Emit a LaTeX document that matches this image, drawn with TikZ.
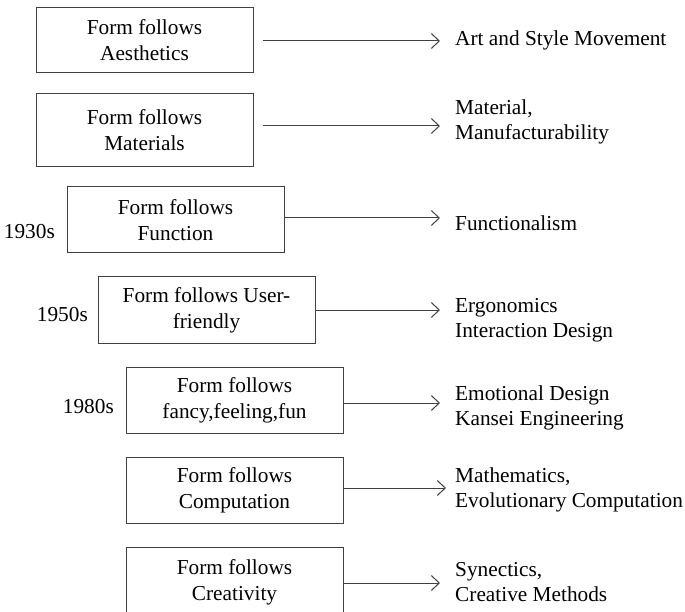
\documentclass[tikz,border=0pt]{standalone}
\usepackage{fontspec}
\setmainfont{Liberation Serif}
\usetikzlibrary{arrows.meta}
\begin{document}
\begin{tikzpicture}[x=1pt,y=-1pt,
  stage/.style={draw=black!75, line width=1pt, minimum width=217pt, inner sep=0pt,
    align=center, font=\fontsize{21.3}{26}\selectfont},
  outcome/.style={anchor=west, inner sep=0pt, align=left,
    font=\fontsize{21.3}{25.5}\selectfont},
  era/.style={anchor=east, inner sep=0pt, font=\fontsize{21.3}{25.5}\selectfont},
  link/.style={draw=black!75, line width=1pt,
    -{Straight Barb[length=8pt,width=15pt,line width=1pt]}}]
\useasboundingbox (0,0) rectangle (685,612);
\clip (0,0) rectangle (685,612);

% design paradigms
\node[stage, minimum height=65pt] (b1) at (144.5,40.5) {Form follows\\Aesthetics};
\node[stage, minimum height=73pt] (b2) at (144.5,130.5) {Form follows\\Materials};
\node[stage, minimum height=66pt] (b3) at (175.5,220) {Form follows\\Function};
\node[stage, minimum height=66pt] (b4) at (206.5,310) {Form follows User-\\friendly};
\node[stage, minimum height=66pt] (b5) at (234.5,400) {Form follows\\fancy,feeling,fun};
\node[stage, minimum height=66pt] (b6) at (234.5,490) {Form follows\\Computation};
\node[stage, minimum height=70pt] (b7) at (234.5,582) {Form follows\\Creativity};

% periods
\node[era] (y1) at (55,232) {1930s};
\node[era] (y2) at (88,315) {1950s};
\node[era] (y3) at (114,407) {1980s};

% related fields
\node[outcome] (t1) at (455,40) {Art and Style Movement};
\node[outcome] (t2) at (455,122) {Material,\\Manufacturability};
\node[outcome] (t3) at (455,223) {Functionalism};
\node[outcome] (t4) at (455,320) {Ergonomics\\Interaction Design};
\node[outcome] (t5) at (455,408) {Emotional Design\\Kansei Engineering};
\node[outcome] (t6) at (455,490) {Mathematics,\\Evolutionary Computation};
\node[outcome] (t7) at (455,582) {Synectics,\\Creative Methods};

% arrow tips
\coordinate (e1) at (440,41);
\coordinate (e2) at (440,126);
\coordinate (e3) at (440,218);
\coordinate (e4) at (440,310);
\coordinate (e5) at (440,403);
\coordinate (e6) at (446,488);
\coordinate (e7) at (440,583);

\draw[link, shorten <=9pt] (b1.east |- e1) -- (e1);
\draw[link, shorten <=9pt] (b2.east |- e2) -- (e2);
\draw[link] (b3.east |- e3) -- (e3);
\draw[link] (b4.east |- e4) -- (e4);
\draw[link] (b5.east |- e5) -- (e5);
\draw[link] (b6.east |- e6) -- (e6);
\draw[link] (b7.east |- e7) -- (e7);
\end{tikzpicture}
\end{document}
